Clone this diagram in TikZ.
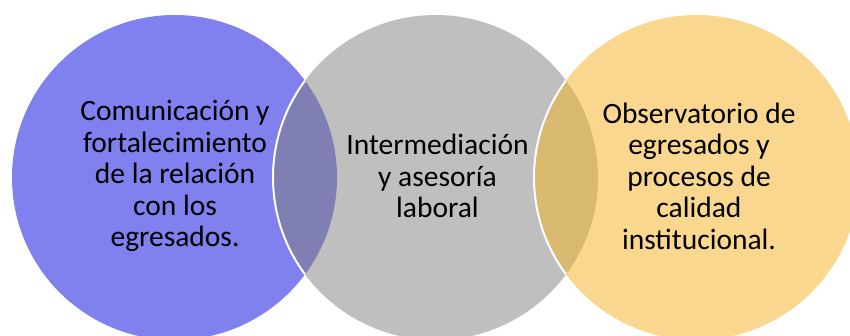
\documentclass[tikz,border=0pt]{standalone}
\usepackage{fontspec}
\setmainfont{Carlito}
\definecolor{cpurple}{HTML}{8080EE}
\definecolor{cgray}{HTML}{BFBFBF}
\definecolor{cyellow}{HTML}{F9D78F}
\definecolor{lensA}{HTML}{7F7FB4}
\definecolor{lensB}{HTML}{D9B870}
\tikzset{
  lbl/.style={align=center, font=\fontsize{29.5}{31.5}\selectfont, text=black, inner sep=0pt},
}
\begin{document}
\begin{tikzpicture}[x=1pt,y=-1pt]
\useasboundingbox (0,0) rectangle (850,335);
\begin{scope}
\clip (0,0) rectangle (850,335);
\coordinate (cA) at (174.5,177.5);
\coordinate (cB) at (435.5,177.5);
\coordinate (cC) at (696.5,177.5);
\def\R{162.5}
\fill[cpurple] (cA) circle[radius=\R];
\fill[cgray] (cB) circle[radius=\R];
\fill[cyellow] (cC) circle[radius=\R];
\begin{scope}
\clip (cA) circle[radius=\R];
\fill[lensA] (cB) circle[radius=\R];
\draw[white, line width=2] (cB) circle[radius=\R];
\end{scope}
\begin{scope}
\clip (cB) circle[radius=\R];
\fill[lensB] (cC) circle[radius=\R];
\draw[white, line width=2] (cC) circle[radius=\R];
\end{scope}
\end{scope}
\node[lbl] (tA) at (175,176) {Comunicación y\\fortalecimiento\\de la relación\\con los\\egresados.};
\node[lbl] (tB) at (437.5,176) {Intermediación\\y asesoría\\laboral};
\node[lbl] (tC) at (699,176) {Observatorio de\\egresados y\\procesos de\\calidad\\institucional.};
\end{tikzpicture}
\end{document}
